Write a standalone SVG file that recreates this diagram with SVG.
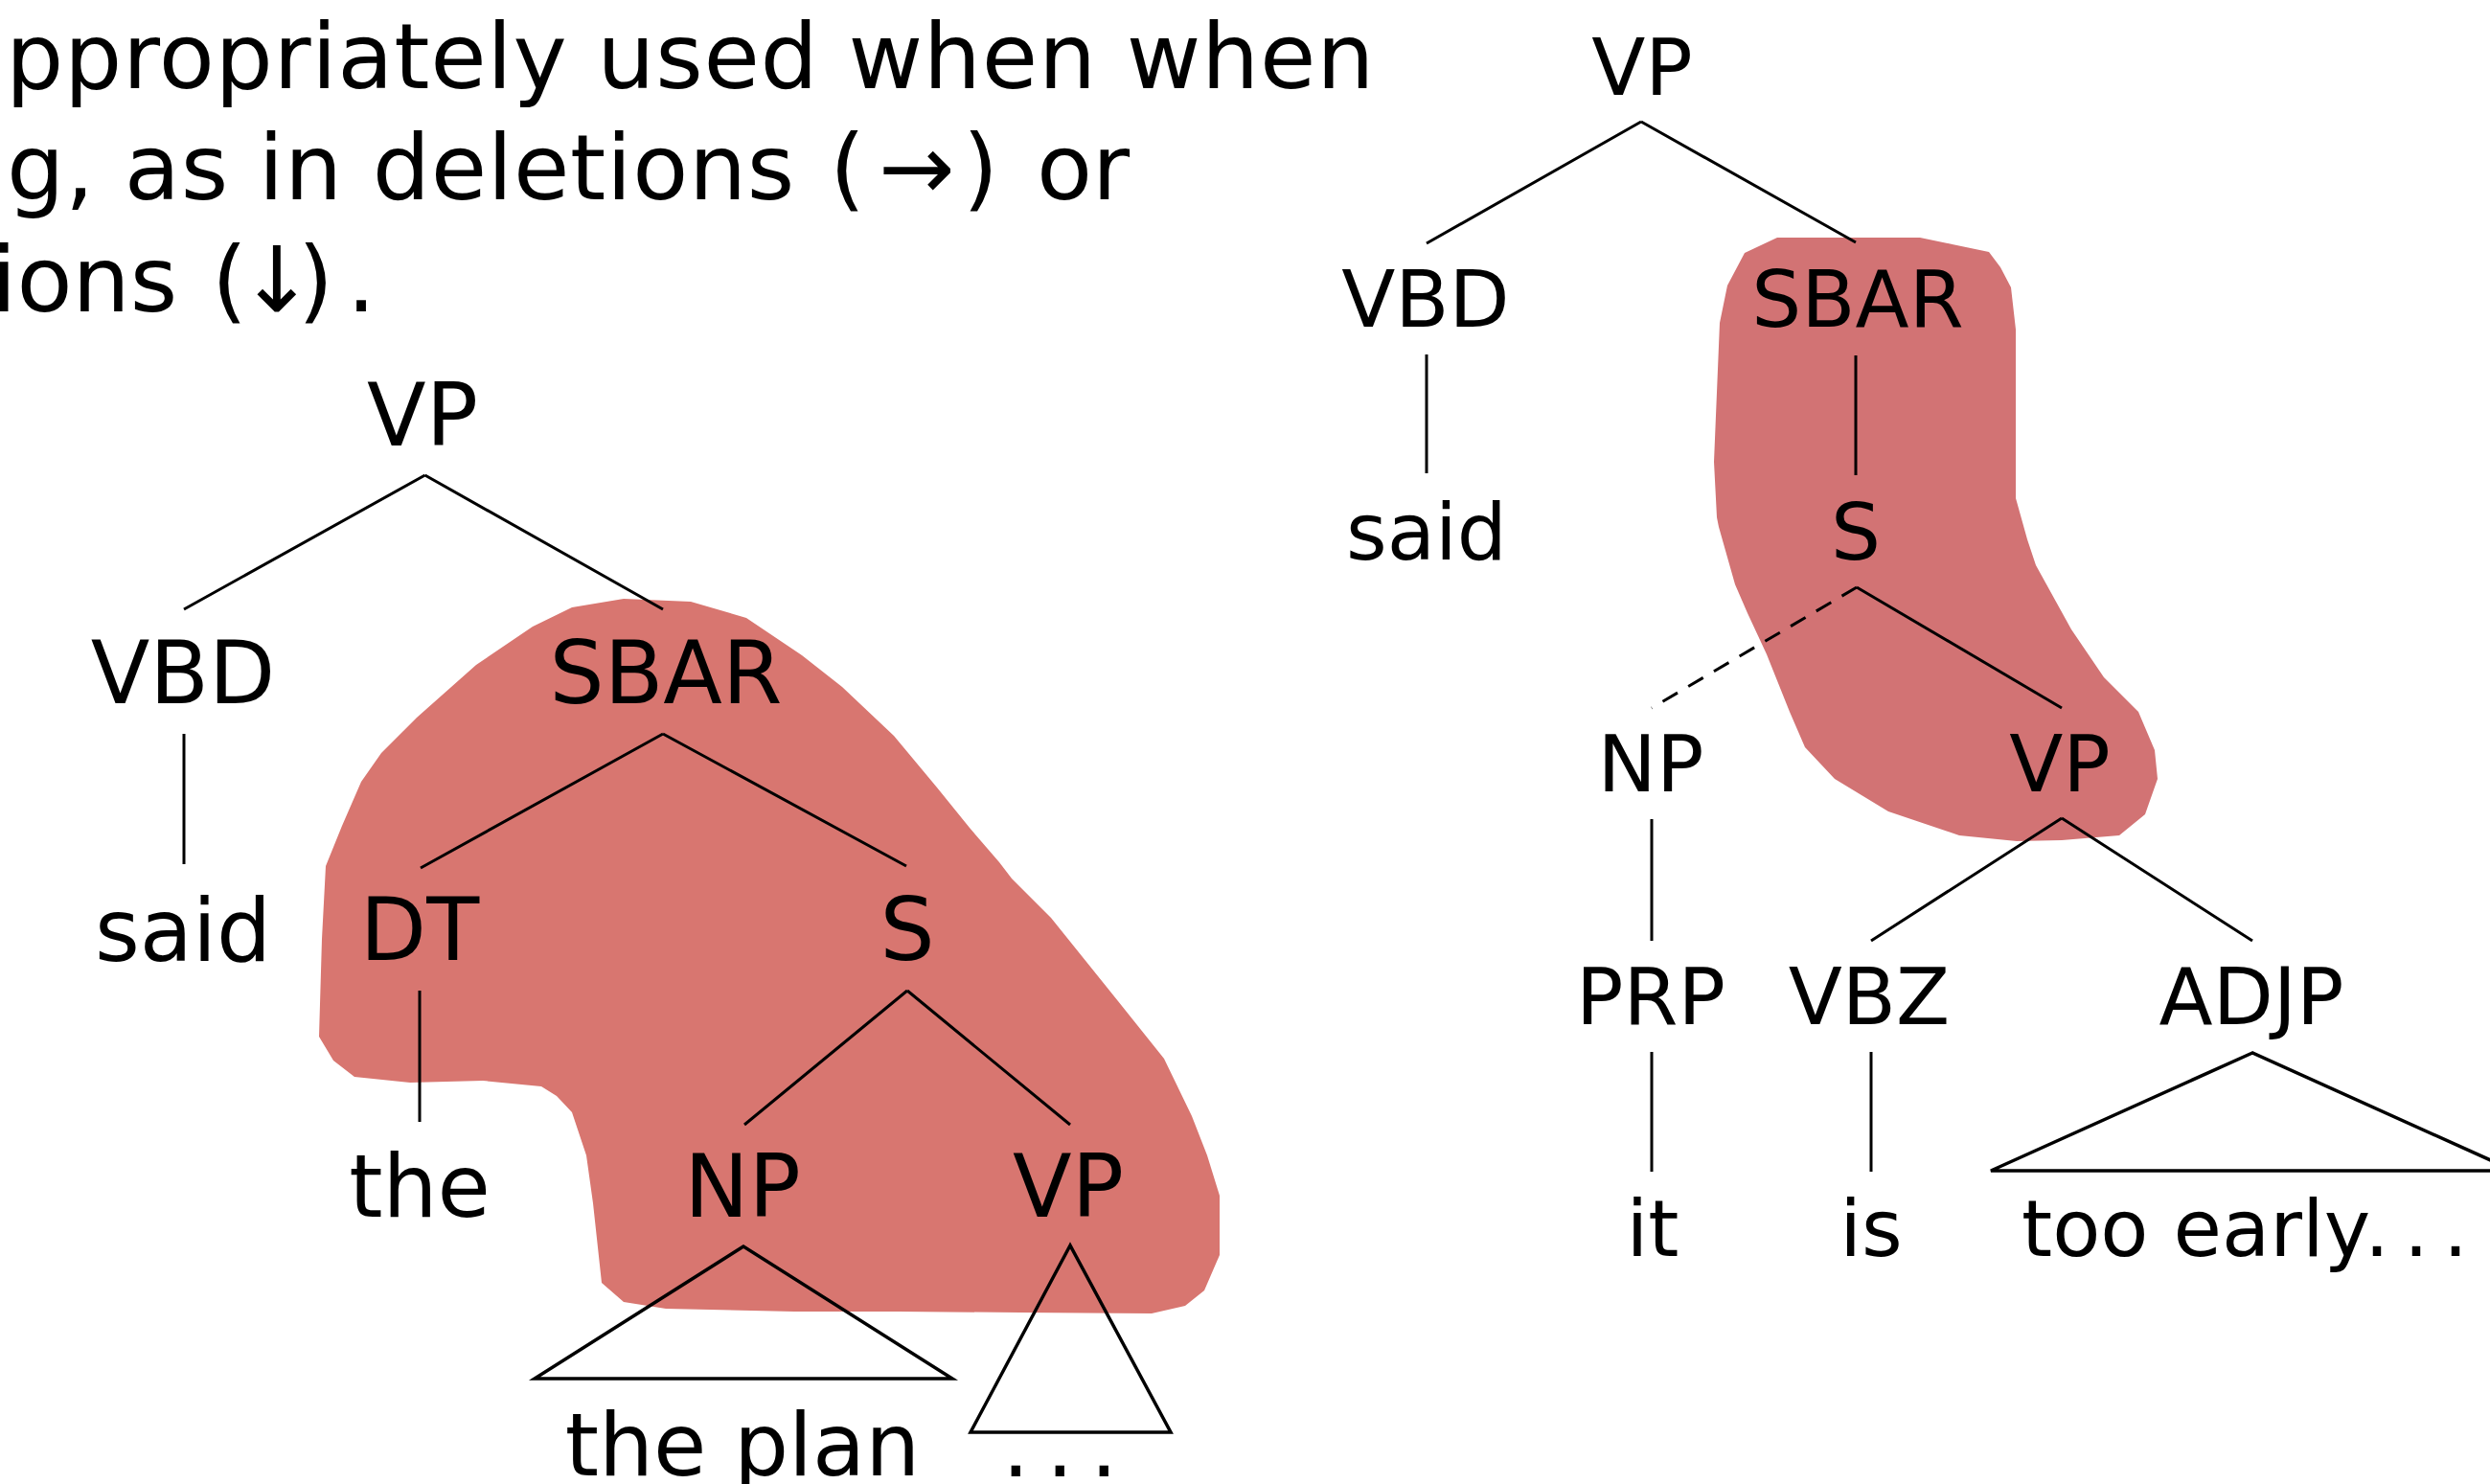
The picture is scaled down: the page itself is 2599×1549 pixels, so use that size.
<svg xmlns="http://www.w3.org/2000/svg" width="2599" height="1549" viewBox="0 0 2599 1549">
<style>
text{font-family:"DejaVu Sans",Verdana,"Liberation Sans",sans-serif;fill:#000}
.cap{font-size:95px}
.sp{letter-spacing:0.7px}
.l{font-size:90px;text-anchor:middle}
.r{font-size:82px;text-anchor:middle}
.e{stroke:#000;stroke-width:3;fill:none}
.tri{stroke:#000;stroke-width:3.5;fill:none;stroke-linejoin:miter}
.dash{stroke-dasharray:18 13}
</style>
<rect width="2599" height="1549" fill="#fff"/>
<g id="highlights">
<polygon id="blob-left" fill="#d87670" points="651,625 721,628 779,645 837,684 879,717 933,768 978,822 1012,864 1043,900 1056,917 1097,958 1167,1045 1215,1105 1244,1165 1260,1206 1273,1248 1273,1310 1257,1347 1237,1363 1202,1371 1065,1370 938,1369 829,1369 695,1366 651,1359 628,1339 619,1256 612,1206 597,1161 581,1144 565,1134 504,1128 428,1130 370,1124 348,1107 333,1082 336,980 340,904 357,862 377,816 398,786 435,749 497,694 556,654 597,634"/>
<polygon id="blob-right" fill="#d27374" points="1855,248 2004,248 2076,263 2088,279 2099,300 2104,344 2104,520 2116,563 2125,590 2162,657 2196,707 2232,743 2249,783 2252,813 2239,850 2212,872 2152,877 2105,878 2045,872 1971,847 1915,813 1884,780 1868,743 1844,683 1824,640 1811,610 1794,550 1792,540 1789,482 1795,337 1803,298 1821,264"/>
</g>
<g id="caption">
<text class="cap sp" x="6" y="92">ppropriately used when when</text>
<text class="cap" y="208"><tspan class="sp" x="7">g, as in deletions</tspan><tspan x="866">(</tspan><tspan x="917">→</tspan><tspan x="1005">)</tspan><tspan x="1082">or</tspan></text>
<text class="cap" y="325"><tspan x="-9">ions</tspan><tspan x="221">(</tspan><tspan x="249">↓</tspan><tspan x="311">)</tspan><tspan x="362">.</tspan></text>
</g>
<g id="connectors">
<path class="e" d="M443.6 496 L192 636 M443.6 496 L692 636"/>
<path class="e" d="M192 766 V902"/>
<path class="e" d="M692 766 L439 906 M692 766 L946 904"/>
<path class="e" d="M438 1034 V1171"/>
<path class="e" d="M947 1034 L777 1174 M947 1034 L1117 1174"/>
<path class="tri" d="M776 1301 L558 1439 L994 1439 Z"/>
<path class="tri" d="M1117 1300 L1013 1495 L1222 1495 Z"/>
<path class="e" d="M1713 127 L1489 254 M1713 127 L1937 253"/>
<path class="e" d="M1489 370 V494"/>
<path class="e" d="M1937 371 V496"/>
<path class="e dash" d="M1938 613 L1724 739"/>
<path class="e" d="M1938 613 L2152 739"/>
<path class="e" d="M1724 855 V982"/>
<path class="e" d="M2152 854 L1953 982 M2152 854 L2351 982"/>
<path class="e" d="M1724 1098 V1223"/>
<path class="e" d="M1953 1098 V1223"/>
<path class="tri" d="M2351 1099 L2078 1222 L2624 1222 Z"/>
</g>
<g id="left-VP"><text class="l" x="441" y="465">VP</text></g>
<g id="left-VBD"><text class="l" x="191" y="734">VBD</text></g>
<g id="left-SBAR"><text class="l" x="695" y="734">SBAR</text></g>
<g id="left-said"><text class="l" x="191" y="1003">said</text></g>
<g id="left-DT"><text class="l" x="438" y="1002">DT</text></g>
<g id="left-S"><text class="l" x="947" y="1002">S</text></g>
<g id="left-the"><text class="l" x="438" y="1270">the</text></g>
<g id="left-NP"><text class="l" x="775" y="1270">NP</text></g>
<g id="left-VP2"><text class="l" x="1115" y="1270">VP</text></g>
<g id="left-theplan"><text class="l" x="775" y="1540">the plan</text></g>
<g id="left-dots"><text style="font-size:90px" y="1541"><tspan x="1046 1092 1138">...</tspan></text></g>
<g id="right-VP"><text class="r" x="1714" y="99">VP</text></g>
<g id="right-VBD"><text class="r" x="1488" y="341">VBD</text></g>
<g id="right-SBAR"><text class="r" x="1939" y="341">SBAR</text></g>
<g id="right-said"><text class="r" x="1489" y="584">said</text></g>
<g id="right-S"><text class="r" x="1937" y="584">S</text></g>
<g id="right-NP"><text class="r" x="1723" y="826">NP</text></g>
<g id="right-VP2"><text class="r" x="2150" y="826">VP</text></g>
<g id="right-PRP"><text class="r" x="1723" y="1069">PRP</text></g>
<g id="right-VBZ"><text class="r" x="1951" y="1069">VBZ</text></g>
<g id="right-ADJP"><text class="r" x="2350" y="1069">ADJP</text></g>
<g id="right-it"><text class="r" x="1725" y="1311">it</text></g>
<g id="right-is"><text class="r" x="1953" y="1311">is</text></g>
<g id="right-tooearly"><text style="font-size:82px" y="1311"><tspan x="2110">too early</tspan><tspan x="2468 2509 2550">...</tspan></text></g>
</svg>
